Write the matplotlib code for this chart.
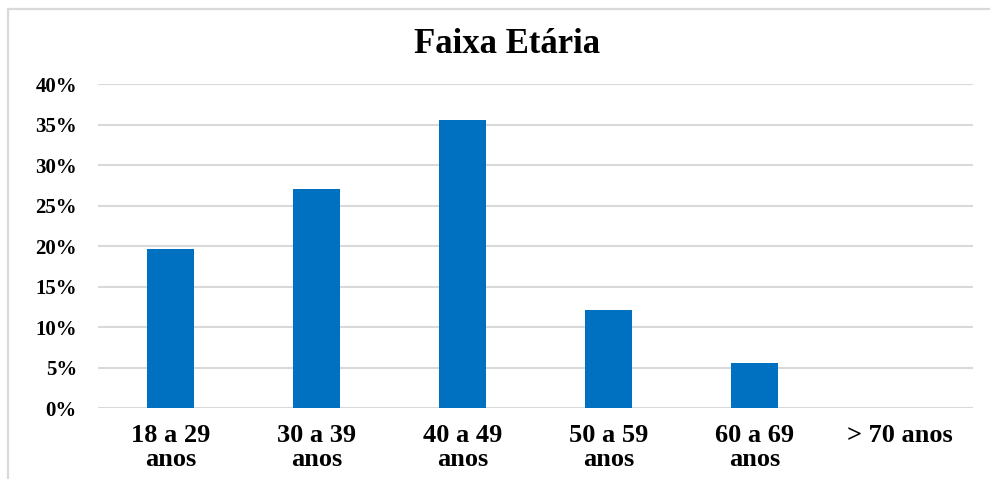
import numpy as np
import matplotlib.pyplot as plt
from matplotlib.patches import Rectangle

categories = ['18 a 29\nanos', '30 a 39\nanos', '40 a 49\nanos',
              '50 a 59\nanos', '60 a 69\nanos', '> 70 anos']
values = [19.7, 27.1, 35.5, 12.1, 5.6, 0.0]
yticks = [0, 5, 10, 15, 20, 25, 30, 35, 40]

plt.rcParams['font.family'] = ['Liberation Serif', 'DejaVu Serif']
plt.rcParams['font.weight'] = 'bold'

fig = plt.figure(figsize=(9.9, 4.79), dpi=100)
ax = fig.add_axes([0.0987, 0.1476, 0.8843, 0.677])

x = np.arange(len(categories))
ax.bar(x, values, width=0.32, color='#0070C0', zorder=3)

ax.set_xlim(-0.5, len(categories) - 0.5)
ax.set_ylim(0, 40)
ax.set_yticks(yticks)
ax.set_yticklabels([f'{t}%' for t in yticks], fontsize=15, fontweight='bold')
ax.set_xticks(x)
ax.set_xticklabels(categories, fontsize=19, fontweight='bold', linespacing=1.1,
                   va='top')

ax.grid(axis='y', color='#D9D9D9', linewidth=1.5, zorder=0)
ax.tick_params(axis='both', length=0)
ax.tick_params(axis='y', pad=15)
ax.tick_params(axis='x', pad=11)
for s in ax.spines.values():
    s.set_visible(False)

fig.text(0.512, 0.908, 'Faixa Etária', ha='center', va='center',
         fontsize=25, fontweight='bold')

# light outer frame, cut off at right and bottom
fig.patches.append(Rectangle((8 / 990, -0.05), 1.2, 1 - 8.5 / 479 + 0.05,
                             transform=fig.transFigure, fill=False,
                             edgecolor='#D9D9D9', linewidth=1.6))

fig.savefig('out.png', dpi=100)
